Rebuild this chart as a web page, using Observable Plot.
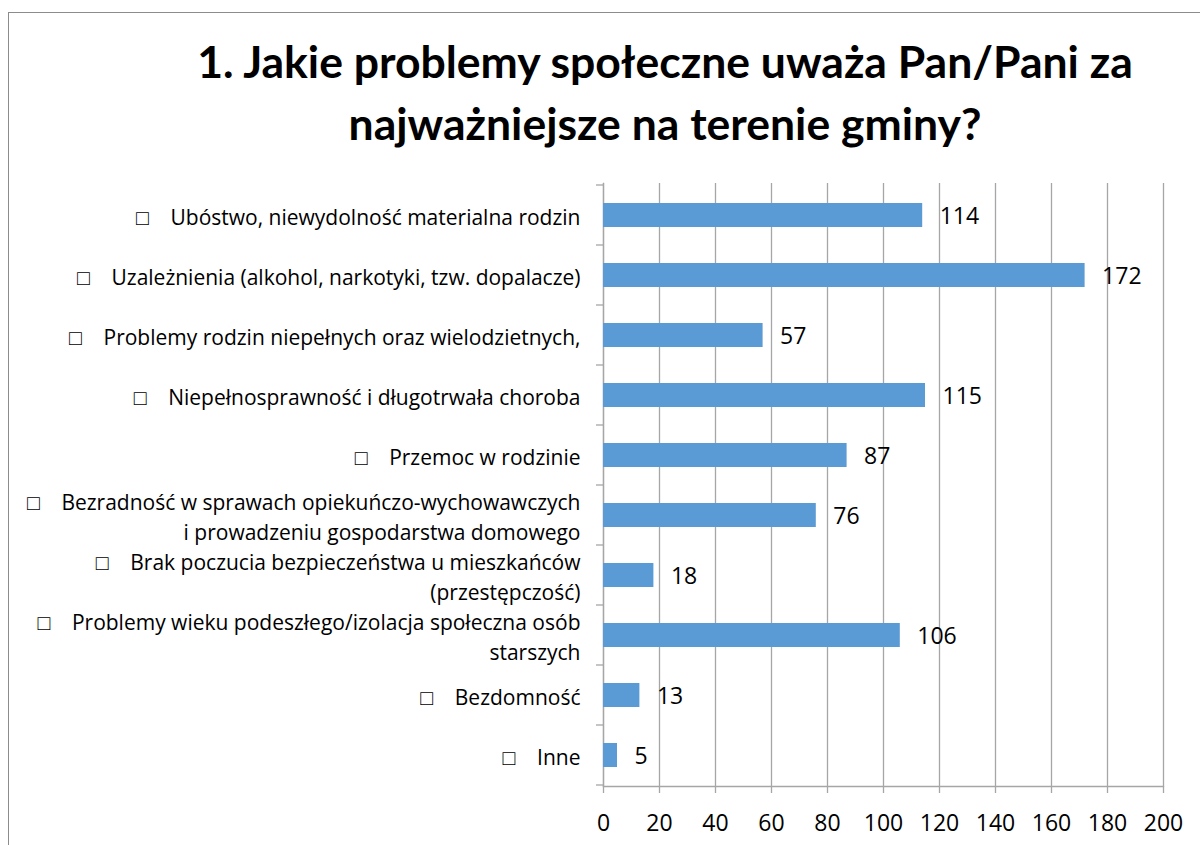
<!DOCTYPE html>
<html>
<head>
<meta charset="utf-8">
<script src="https://cdn.jsdelivr.net/npm/d3@7"></script>
<script src="https://cdn.jsdelivr.net/npm/@observablehq/plot@0.6"></script>
<style>
  html, body { margin: 0; padding: 0; background: #fff; }
  #wrap { position: relative; width: 1200px; height: 845px; overflow: hidden; font-family: "Open Sans", sans-serif; }
  #frame { position: absolute; left: 8px; top: 12px; width: 1300px; height: 900px;
           border-left: 1.5px solid #8c8c8c; border-top: 1.5px solid #8c8c8c; }
  #title { position: absolute; left: 130px; width: 1070px; top: 30px; text-align: center;
           font: bold 44.5px Lato, sans-serif; line-height: 62px; color: #000; }
  #chart { position: absolute; left: 0; top: 170px; }
</style>
</head>
<body>
<div id="wrap">
  <div id="frame"></div>
  <div id="title">1. Jakie problemy społeczne uważa Pan/Pani za<br>najważniejsze na terenie gminy?</div>
  <div id="chart"></div>
</div>
<script>
const categories = [
  "Ubóstwo", "Uzależnienia", "Rodziny niepełne", "Niepełnosprawność", "Przemoc",
  "Bezradność", "Brak bezpieczeństwa", "Wiek podeszły", "Bezdomność", "Inne"
];
const labels = [
  "□\u00a0\u00a0\u00a0\u00a0Ubóstwo, niewydolność materialna rodzin",
  "□\u00a0\u00a0\u00a0\u00a0Uzależnienia (alkohol, narkotyki, tzw. dopalacze)",
  "□\u00a0\u00a0\u00a0\u00a0Problemy rodzin niepełnych oraz wielodzietnych,",
  "□\u00a0\u00a0\u00a0\u00a0Niepełnosprawność i długotrwała choroba",
  "□\u00a0\u00a0\u00a0\u00a0Przemoc w rodzinie",
  "□\u00a0\u00a0\u00a0\u00a0Bezradność w sprawach opiekuńczo-wychowawczych\ni prowadzeniu gospodarstwa domowego",
  "□\u00a0\u00a0\u00a0\u00a0Brak poczucia bezpieczeństwa u mieszkańców\n(przestępczość)",
  "□\u00a0\u00a0\u00a0\u00a0Problemy wieku podeszłego/izolacja społeczna osób\nstarszych",
  "□\u00a0\u00a0\u00a0\u00a0Bezdomność",
  "□\u00a0\u00a0\u00a0\u00a0Inne"
];
const values = [114, 172, 57, 115, 87, 76, 18, 106, 13, 5];
const xTicks = [0, 20, 40, 60, 80, 100, 120, 140, 160, 180, 200];

const rows = categories.map((c, i) => ({cat: c, label: labels[i], value: values[i]}));

const gridColor = "#a6a6a6";

// boundary ticks between category bands (drawn from the band scale)
function bandBoundaryTicks(index, scales, values, dimensions) {
  const y = scales.y;
  const desc = scales.scales && scales.scales.y;
  const step = desc && desc.step != null ? desc.step : y.step();
  const pin = desc && desc.paddingInner != null ? desc.paddingInner : (y.paddingInner ? y.paddingInner() : 0.6);
  const g = d3.create("svg:g").attr("stroke", gridColor).attr("stroke-width", 1.3);
  const x0 = dimensions.marginLeft;
  const ys = categories.map(c => y(c) - step * pin / 2);
  ys.push(ys[ys.length - 1] + step);
  for (const yy of ys) {
    g.append("line").attr("x1", x0 - 7).attr("x2", x0).attr("y1", yy).attr("y2", yy);
  }
  return g.node();
}

const chart = Plot.plot({
  width: 1200,
  height: 675,
  marginTop: 13,
  marginBottom: 59,
  marginLeft: 603,
  marginRight: 37,
  style: {fontFamily: "'Open Sans', sans-serif", fontSize: "21px", color: "#000", background: "transparent"},
  x: {domain: [0, 200], ticks: xTicks},
  y: {domain: categories, paddingInner: 0.6, paddingOuter: 0.3, axis: null},
  marks: [
    Plot.gridX(xTicks, {stroke: gridColor, strokeOpacity: 1, strokeWidth: 1.3}),
    Plot.axisX(xTicks, {tickSize: 7, stroke: gridColor, strokeWidth: 1.3, tickPadding: 21, fontSize: 23, fill: "#000", label: null}),
    Plot.frame({anchor: "bottom", stroke: gridColor, strokeWidth: 1.3}),
    Plot.frame({anchor: "left", stroke: gridColor, strokeWidth: 1.3}),
    bandBoundaryTicks,
    Plot.barX(rows, {x: "value", y: "cat", fill: "#5b9bd5"}),
    Plot.text(rows, {x: "value", y: "cat", text: d => String(d.value), textAnchor: "start", dx: 17, dy: 1, fontSize: 23, fill: "#000"}),
    Plot.text(rows, {y: "cat", text: "label", frameAnchor: "left", textAnchor: "end", dx: -23, lineHeight: 1.43, fontSize: 21, fill: "#000"})
  ]
});
document.getElementById("chart").appendChild(chart);
</script>
</body>
</html>
